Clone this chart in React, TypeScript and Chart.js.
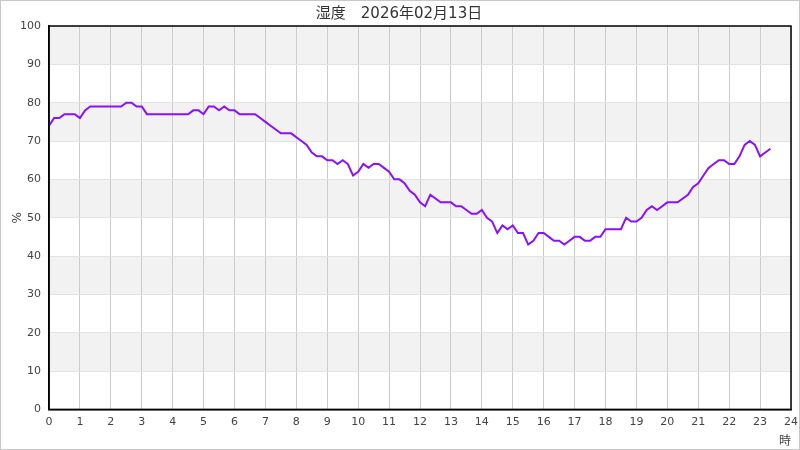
import React, { useEffect, useRef } from "react";
import { Chart, registerables } from "chart.js";

Chart.register(...registerables);

const TITLE = "湿度　2026年02月13日";
const X_TITLE = "時";
const Y_TITLE = "%";
const STEP_MINUTES = 10;
const humidity: number[] = [
  // 0:00 - 2:50
  74, 76, 76, 77, 77, 77, 76, 78, 79, 79, 79, 79, 79, 79, 79, 80, 80, 79,
  // 3:00 - 5:50
  79, 77, 77, 77, 77, 77, 77, 77, 77, 77, 78, 78, 77, 79, 79, 78, 79, 78,
  // 6:00 - 8:50
  78, 77, 77, 77, 77, 76, 75, 74, 73, 72, 72, 72, 71, 70, 69, 67, 66, 66,
  // 9:00 - 11:50
  65, 65, 64, 65, 64, 61, 62, 64, 63, 64, 64, 63, 62, 60, 60, 59, 57, 56,
  // 12:00 - 14:50
  54, 53, 56, 55, 54, 54, 54, 53, 53, 52, 51, 51, 52, 50, 49, 46, 48, 47,
  // 15:00 - 17:50
  48, 46, 46, 43, 44, 46, 46, 45, 44, 44, 43, 44, 45, 45, 44, 44, 45, 45,
  // 18:00 - 20:50
  47, 47, 47, 47, 50, 49, 49, 50, 52, 53, 52, 53, 54, 54, 54, 55, 56, 58,
  // 21:00 - 23:20
  59, 61, 63, 64, 65, 65, 64, 64, 66, 69, 70, 69, 66, 67, 68,
];

const FONT = "'DejaVu Sans', 'Noto Sans CJK JP', sans-serif";

const bandsPlugin = {
  id: "bands",
  beforeDraw(chart: any) {
    const { ctx, chartArea, scales } = chart;
    const y = scales.y;
    ctx.save();
    ctx.fillStyle = "#ffffff";
    ctx.fillRect(0, 0, chart.width, chart.height);
    ctx.fillStyle = "#f2f2f2";
    for (let v = 10; v < 100; v += 20) {
      const top = y.getPixelForValue(v + 10);
      const bottom = y.getPixelForValue(v);
      ctx.fillRect(chartArea.left, top, chartArea.right - chartArea.left, bottom - top);
    }
    ctx.restore();
  },
  afterDraw(chart: any) {
    const { ctx, chartArea } = chart;
    ctx.save();
    ctx.strokeStyle = "#000000";
    ctx.lineWidth = 1.5;
    ctx.strokeRect(chartArea.left, chartArea.top, chartArea.right - chartArea.left, chartArea.bottom - chartArea.top);
    ctx.restore();
  },
};

export default function App() {
  const ref = useRef<HTMLCanvasElement | null>(null);
  useEffect(() => {
    if (!ref.current) return;
    const points = humidity.map((v, i) => ({ x: (i * STEP_MINUTES) / 60, y: v }));
    const chart = new Chart(ref.current, {
      type: "line",
      data: {
        datasets: [
          {
            data: points,
            borderColor: "#8a10ff",
            borderWidth: 2,
            pointRadius: 0,
            tension: 0,
            fill: false,
          },
        ],
      },
      options: {
        animation: false,
        responsive: false,
        maintainAspectRatio: false,
        layout: { padding: { top: 0, right: 2, left: 0, bottom: 0 } },
        plugins: {
          legend: { display: false },
          tooltip: { enabled: false },
          title: {
            display: true,
            text: TITLE,
            color: "#333333",
            font: { family: FONT, size: 15, weight: "normal" },
            padding: { top: 4, bottom: 3 },
          },
        },
        scales: {
          x: {
            type: "linear",
            min: 0,
            max: 24,
            ticks: { stepSize: 1, color: "#444444", font: { family: FONT, size: 11 }, padding: 6, maxRotation: 0 },
            grid: { color: "#cccccc", drawTicks: false },
            border: { color: "#000000", width: 1.5 },
            title: {
              display: true,
              text: X_TITLE,
              align: "end",
              color: "#444444",
              font: { family: FONT, size: 12 },
              padding: { top: 0, bottom: 0 },
            },
            afterFit(scale: any) {
              scale.paddingRight = 8;
            },
          },
          y: {
            min: 0,
            max: 100,
            ticks: { stepSize: 10, color: "#444444", font: { family: FONT, size: 11 }, padding: 8 },
            grid: { color: "#e3e3e3", drawTicks: false },
            border: { color: "#000000", width: 1.5 },
            title: {
              display: true,
              text: Y_TITLE,
              color: "#444444",
              font: { family: FONT, size: 12 },
              padding: { top: 10, bottom: 0 },
            },
            afterFit(scale: any) {
              scale.width = 48;
            },
          },
        },
      },
      plugins: [bandsPlugin],
    });
    return () => chart.destroy();
  }, []);
  return (
    <div
      style={{
        position: "absolute",
        left: 0,
        top: 0,
        width: 800,
        height: 450,
        boxSizing: "border-box",
        border: "1px solid #c8c8c8",
        background: "#fff",
      }}
    >
      <canvas ref={ref} width={798} height={448} style={{ display: "block" }} />
    </div>
  );
}
